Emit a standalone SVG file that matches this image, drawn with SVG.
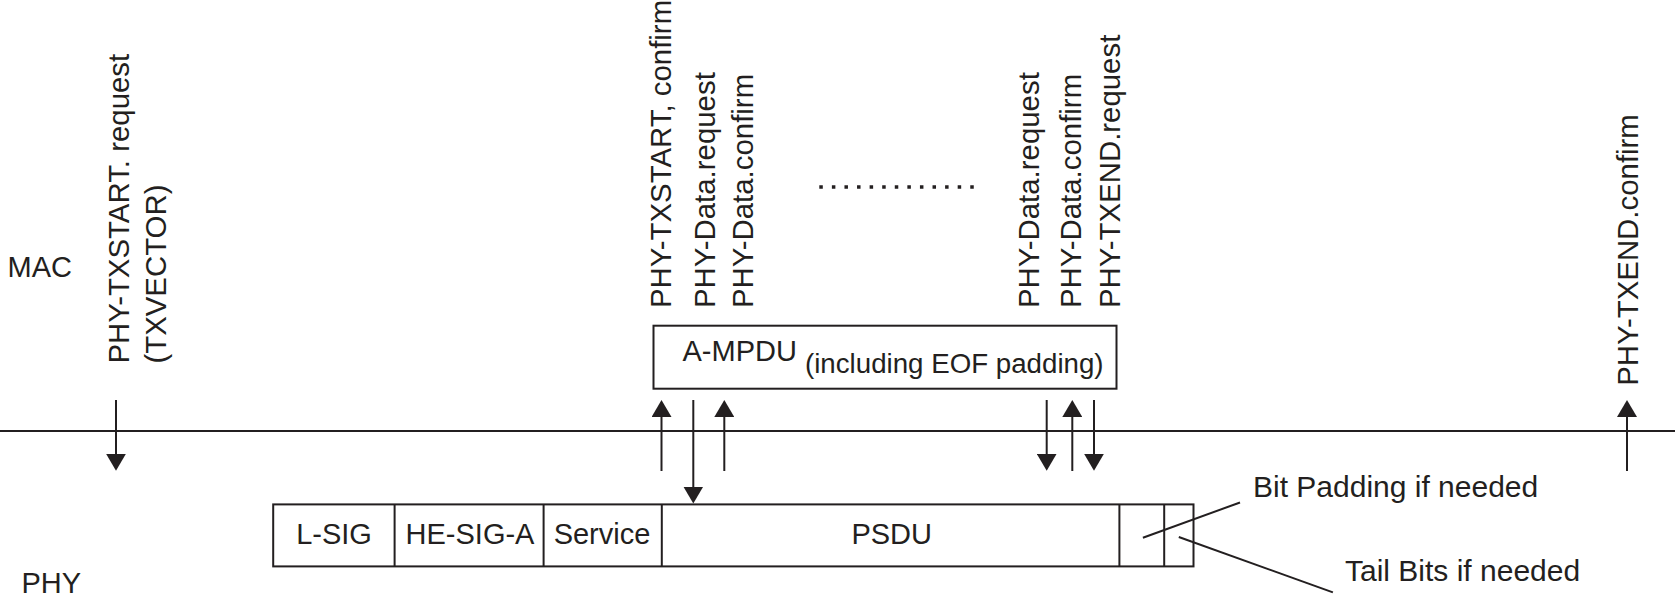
<svg xmlns="http://www.w3.org/2000/svg" width="1675" height="600" viewBox="0 0 1675 600">
<style>
text{font-family:"Liberation Sans",Arial,sans-serif;fill:#231f20;font-size:29px}
.v{font-size:29.4px}
.sm{font-size:27.7px}
.ann{font-size:30px}
.ln{stroke:#231f20;stroke-width:2;fill:none}
.box{stroke:#231f20;stroke-width:2;fill:#fff}
</style>
<defs>
<marker id="ah" viewBox="0 0 17 20" refX="9" refY="10" markerWidth="17" markerHeight="20" markerUnits="userSpaceOnUse" orient="auto">
<path d="M0,0 L17,10 L0,20 z" fill="#231f20"/>
</marker>
</defs>
<rect width="1675" height="600" fill="#fff"/>
<g id="layer-labels">
<text x="7.5" y="277">MAC</text>
<text x="21.5" y="592.5">PHY</text>
</g>
<g id="boundary">
<line class="ln" x1="0" y1="431" x2="1675" y2="431"/>
</g>
<g id="ampdu">
<rect class="box" x="653.5" y="325.7" width="463" height="63"/>
<text x="682.5" y="360.7">A-MPDU</text>
<text class="sm" x="805" y="373.3">(including EOF padding)</text>
</g>
<g id="ppdu">
<rect class="box" x="273.2" y="504.4" width="920.3" height="62"/>
<line class="ln" x1="394.6" y1="504.4" x2="394.6" y2="566.4"/>
<line class="ln" x1="543.6" y1="504.4" x2="543.6" y2="566.4"/>
<line class="ln" x1="661.8" y1="504.4" x2="661.8" y2="566.4"/>
<line class="ln" x1="1119.4" y1="504.4" x2="1119.4" y2="566.4"/>
<line class="ln" x1="1164.2" y1="504.4" x2="1164.2" y2="566.4"/>
<text x="334" y="544.3" text-anchor="middle">L-SIG</text>
<text x="470" y="544.3" text-anchor="middle">HE-SIG-A</text>
<text x="602" y="544.3" text-anchor="middle">Service</text>
<text x="891.7" y="544.3" text-anchor="middle">PSDU</text>
</g>
<g id="annotations">
<text class="ann" x="1253" y="496.5">Bit Padding if needed</text>
<text class="ann" x="1345" y="581">Tail Bits if needed</text>
<line class="ln" x1="1142.9" y1="537.7" x2="1240" y2="502.5"/>
<line class="ln" x1="1178.8" y1="537" x2="1332.9" y2="592.4"/>
</g>
<g id="primitives">
<text class="v" transform="translate(129.3,363.6) rotate(-90)">PHY-TXSTART. request</text>
<text class="v" transform="translate(166,363.6) rotate(-90)">(TXVECTOR)</text>
<text class="v" transform="translate(670.7,308) rotate(-90)">PHY-TXSTART, confirm</text>
<text class="v" transform="translate(715.4,308) rotate(-90)">PHY-Data.request</text>
<text class="v" transform="translate(752.9,308) rotate(-90)">PHY-Data.confirm</text>
<text class="v" transform="translate(1038.6,308) rotate(-90)">PHY-Data.request</text>
<text class="v" transform="translate(1081.4,308) rotate(-90)">PHY-Data.confirm</text>
<text class="v" transform="translate(1120.2,308) rotate(-90)">PHY-TXEND.request</text>
<text class="v" transform="translate(1638.3,385.8) rotate(-90)">PHY-TXEND.confirm</text>
</g>
<g id="ellipsis">
<line x1="819.3" y1="187" x2="975" y2="187" stroke="#231f20" stroke-width="3.5" stroke-dasharray="3.5 9.08"/>
</g>
<g id="connectors">
<line class="ln" x1="116" y1="400" x2="116" y2="462.7" marker-end="url(#ah)"/>
<line class="ln" x1="661.5" y1="471" x2="661.5" y2="408" marker-end="url(#ah)"/>
<line class="ln" x1="693.3" y1="400" x2="693.3" y2="495.5" marker-end="url(#ah)"/>
<line class="ln" x1="724.3" y1="471" x2="724.3" y2="408" marker-end="url(#ah)"/>
<line class="ln" x1="1046.7" y1="400" x2="1046.7" y2="462.7" marker-end="url(#ah)"/>
<line class="ln" x1="1072.3" y1="471" x2="1072.3" y2="408" marker-end="url(#ah)"/>
<line class="ln" x1="1094" y1="400" x2="1094" y2="462.7" marker-end="url(#ah)"/>
<line class="ln" x1="1627" y1="471" x2="1627" y2="408" marker-end="url(#ah)"/>
</g>
</svg>
